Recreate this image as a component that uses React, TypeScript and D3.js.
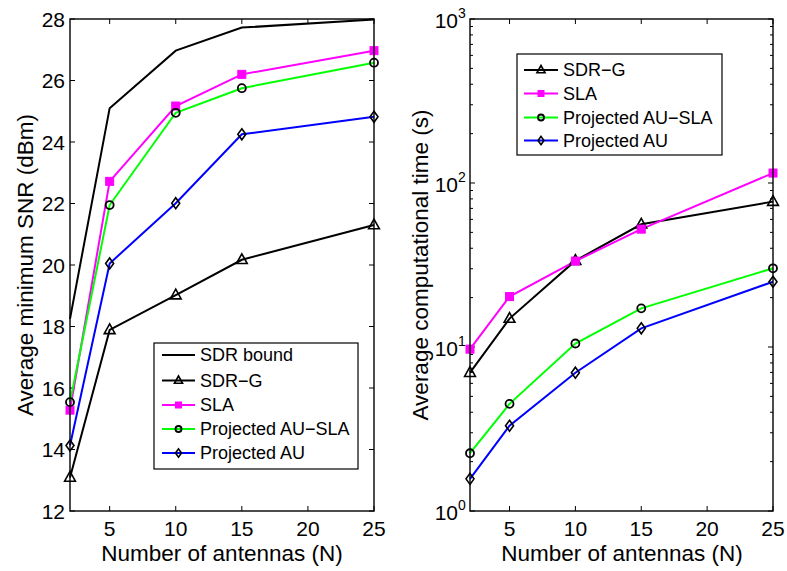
import React from "react";
import * as d3 from "d3";

// Antenna counts shared by both panels
const antennas = [2, 5, 10, 15, 25];

// Left panel: average minimum SNR (dBm)
const snrSdrBound = [18.25, 25.1, 26.97, 27.72, 27.98];
const snrSdrG = [13.09, 17.89, 19.02, 20.17, 21.3];
const snrSla = [15.28, 22.72, 25.17, 26.2, 26.97];
const snrAuSla = [15.54, 21.95, 24.95, 25.75, 26.58];
const snrAu = [14.13, 20.05, 22.01, 24.25, 24.82];

// Right panel: average computational time (s)
const timeSdrG = [6.97, 14.9, 33.6, 56.0, 77.0];
const timeSla = [9.7, 20.3, 33.4, 52.3, 115];
const timeAuSla = [2.25, 4.5, 10.5, 17.2, 30.2];
const timeAu = [1.57, 3.31, 6.97, 13.0, 25.0];

const xTicks = [5, 10, 15, 20, 25];
const snrTicks = [12, 14, 16, 18, 20, 22, 24, 26, 28];
const timeDecades = [0, 1, 2, 3];

type Marker = "none" | "triangle" | "square" | "circle" | "diamond";
type Series = { name: string; color: string; marker: Marker; values: number[] };

const leftSeries: Series[] = [
  { name: "SDR bound", color: "#000000", marker: "none", values: snrSdrBound },
  { name: "SDR\u2212G", color: "#000000", marker: "triangle", values: snrSdrG },
  { name: "SLA", color: "#ff00ff", marker: "square", values: snrSla },
  { name: "Projected AU\u2212SLA", color: "#00ff00", marker: "circle", values: snrAuSla },
  { name: "Projected AU", color: "#0000ff", marker: "diamond", values: snrAu },
];

const rightSeries: Series[] = [
  { name: "SDR\u2212G", color: "#000000", marker: "triangle", values: timeSdrG },
  { name: "SLA", color: "#ff00ff", marker: "square", values: timeSla },
  { name: "Projected AU\u2212SLA", color: "#00ff00", marker: "circle", values: timeAuSla },
  { name: "Projected AU", color: "#0000ff", marker: "diamond", values: timeAu },
];

const FONT = "'Liberation Sans', Arial, Helvetica, sans-serif";
const TICK_FS = 21;
const LABEL_FS = 22.5;
const LEGEND_FS = 18;
const X_TICK_BASE = 535.5;
const X_LABEL_BASE = 560.5;

function MarkerShape({ kind, x, y, color, small }: { kind: Marker; x: number; y: number; color: string; small?: boolean }) {
  const k = small ? 0.75 : 1;
  if (kind === "triangle") {
    const r = 6 * k;
    const d = `M${x},${y - r} L${x + r * 0.9},${y + r * 0.62} L${x - r * 0.9},${y + r * 0.62} Z`;
    return <path d={d} fill="none" stroke="#000" strokeWidth={1.6} strokeLinejoin="miter" />;
  }
  if (kind === "square") {
    const s = 8 * k;
    return <rect x={x - s / 2} y={y - s / 2} width={s} height={s} fill={color} stroke={color} strokeWidth={1} />;
  }
  if (kind === "circle") {
    return <circle cx={x} cy={y} r={4 * k} fill="none" stroke="#000" strokeWidth={1.8} />;
  }
  if (kind === "diamond") {
    const w = 4 * k;
    const h = 5.5 * k;
    const d = `M${x},${y - h} L${x + w},${y} L${x},${y + h} L${x - w},${y} Z`;
    return <path d={d} fill="none" stroke="#000" strokeWidth={1.6} />;
  }
  return null;
}

function Legend({ series, x, y, w, h, rowY, lineX0, lineX1, textX }: {
  series: Series[]; x: number; y: number; w: number; h: number; rowY: number[]; lineX0: number; lineX1: number; textX: number;
}) {
  return (
    <g>
      <rect x={x} y={y} width={w} height={h} fill="#fff" stroke="#000" strokeWidth={1.2} />
      {series.map((s, i) => (
        <g key={s.name}>
          <line x1={lineX0} x2={lineX1} y1={rowY[i]} y2={rowY[i]} stroke={s.color} strokeWidth={2} />
          <MarkerShape kind={s.marker} x={(lineX0 + lineX1) / 2} y={rowY[i]} color={s.color} small />
          <text x={textX} y={rowY[i]} dy="0.36em" fontSize={LEGEND_FS} fontFamily={FONT}>{s.name}</text>
        </g>
      ))}
    </g>
  );
}

export default function App() {
  const W = 787;
  const H = 571;
  const top = 19;
  const bottom = 511;

  // Left panel scales
  const xL = d3.scaleLinear().domain([2, 25]).range([70, 374]);
  const yL = d3.scaleLinear().domain([12, 28]).range([bottom, top]);

  // Right panel scales
  const xR = d3.scaleLinear().domain([2, 25]).range([470, 773]);
  const yR = d3.scaleLog().domain([1, 1000]).range([bottom, top]);

  const lineFor = (xs: d3.ScaleLinear<number, number>, ys: (v: number) => number) =>
    d3.line<number>().x((_, i) => xs(antennas[i])).y((v) => ys(v));

  const minorTicks: number[] = [];
  for (let e = 0; e < 3; e++) for (let m = 2; m <= 9; m++) minorTicks.push(m * Math.pow(10, e));

  const tickLen = 5;

  return (
    <svg width={W} height={H} style={{ position: "absolute", left: 0, top: 0, background: "#fff" }} fontFamily={FONT}>
      <rect width={W} height={H} fill="#fff" />

      {/* ===== Left panel ===== */}
      <g>
        <rect x={xL(2)} y={top} width={xL(25) - xL(2)} height={bottom - top} fill="#fff" />
        {xTicks.map((t) => (
          <g key={"lx" + t}>
            <line x1={xL(t)} x2={xL(t)} y1={bottom} y2={bottom - tickLen} stroke="#000" strokeWidth={1} />
            <line x1={xL(t)} x2={xL(t)} y1={top} y2={top + tickLen} stroke="#000" strokeWidth={1} />
            <text x={xL(t)} y={X_TICK_BASE} textAnchor="middle" fontSize={TICK_FS}>{t}</text>
          </g>
        ))}
        {snrTicks.map((t) => (
          <g key={"ly" + t}>
            <line x1={xL(2)} x2={xL(2) + tickLen} y1={yL(t)} y2={yL(t)} stroke="#000" strokeWidth={1} />
            <line x1={xL(25)} x2={xL(25) - tickLen} y1={yL(t)} y2={yL(t)} stroke="#000" strokeWidth={1} />
            <text x={65} y={yL(t)} dy="0.36em" textAnchor="end" fontSize={TICK_FS}>{t}</text>
          </g>
        ))}
        {leftSeries.map((s) => (
          <path key={"lp" + s.name} d={lineFor(xL, yL)(s.values) || ""} fill="none" stroke={s.color} strokeWidth={2} />
        ))}
        {leftSeries.map((s) =>
          s.values.map((v, i) => (
            <MarkerShape key={"lm" + s.name + i} kind={s.marker} x={xL(antennas[i])} y={yL(v)} color={s.color} />
          ))
        )}
        <rect x={xL(2)} y={top} width={xL(25) - xL(2)} height={bottom - top} fill="none" stroke="#000" strokeWidth={1.4} />
        <text x={222} y={X_LABEL_BASE} textAnchor="middle" fontSize={LABEL_FS}>Number of antennas (N)</text>
        <text transform={`translate(33,265) rotate(-90)`} textAnchor="middle" fontSize={LABEL_FS}>
          Average minimum SNR (dBm)
        </text>
        <Legend
          series={leftSeries}
          x={154} y={343} w={204} h={126}
          rowY={[355, 380.5, 405, 429, 453]}
          lineX0={162} lineX1={195} textX={200}
        />
      </g>

      {/* ===== Right panel ===== */}
      <g>
        <rect x={xR(2)} y={top} width={xR(25) - xR(2)} height={bottom - top} fill="#fff" />
        {xTicks.map((t) => (
          <g key={"rx" + t}>
            <line x1={xR(t)} x2={xR(t)} y1={bottom} y2={bottom - tickLen} stroke="#000" strokeWidth={1} />
            <line x1={xR(t)} x2={xR(t)} y1={top} y2={top + tickLen} stroke="#000" strokeWidth={1} />
            <text x={xR(t)} y={X_TICK_BASE} textAnchor="middle" fontSize={TICK_FS}>{t}</text>
          </g>
        ))}
        {timeDecades.map((e) => {
          const y = yR(Math.pow(10, e));
          return (
            <g key={"ry" + e}>
              <line x1={xR(2)} x2={xR(2) + tickLen} y1={y} y2={y} stroke="#000" strokeWidth={1} />
              <line x1={xR(25)} x2={xR(25) - tickLen} y1={y} y2={y} stroke="#000" strokeWidth={1} />
              <text x={458} y={y + 8.5} textAnchor="end" fontSize={TICK_FS}>10</text>
              <text x={458} y={y - 1.5} textAnchor="start" fontSize={14}>{e}</text>
            </g>
          );
        })}
        {minorTicks.map((t) => (
          <g key={"rm" + t}>
            <line x1={xR(2)} x2={xR(2) + 3} y1={yR(t)} y2={yR(t)} stroke="#000" strokeWidth={1} />
            <line x1={xR(25)} x2={xR(25) - 3} y1={yR(t)} y2={yR(t)} stroke="#000" strokeWidth={1} />
          </g>
        ))}
        {rightSeries.map((s) => (
          <path key={"rp" + s.name} d={lineFor(xR, yR)(s.values) || ""} fill="none" stroke={s.color} strokeWidth={2} />
        ))}
        {rightSeries.map((s) =>
          s.values.map((v, i) => (
            <MarkerShape key={"rmk" + s.name + i} kind={s.marker} x={xR(antennas[i])} y={yR(v)} color={s.color} />
          ))
        )}
        <rect x={xR(2)} y={top} width={xR(25) - xR(2)} height={bottom - top} fill="none" stroke="#000" strokeWidth={1.4} />
        <text x={622} y={X_LABEL_BASE} textAnchor="middle" fontSize={LABEL_FS}>Number of antennas (N)</text>
        <text transform={`translate(428,265) rotate(-90)`} textAnchor="middle" fontSize={LABEL_FS}>
          Average computational time (s)
        </text>
        <Legend
          series={rightSeries}
          x={517} y={54} w={205} h={101}
          rowY={[70, 93.5, 117.5, 140.5]}
          lineX0={524} lineX1={558} textX={563}
        />
      </g>
    </svg>
  );
}
